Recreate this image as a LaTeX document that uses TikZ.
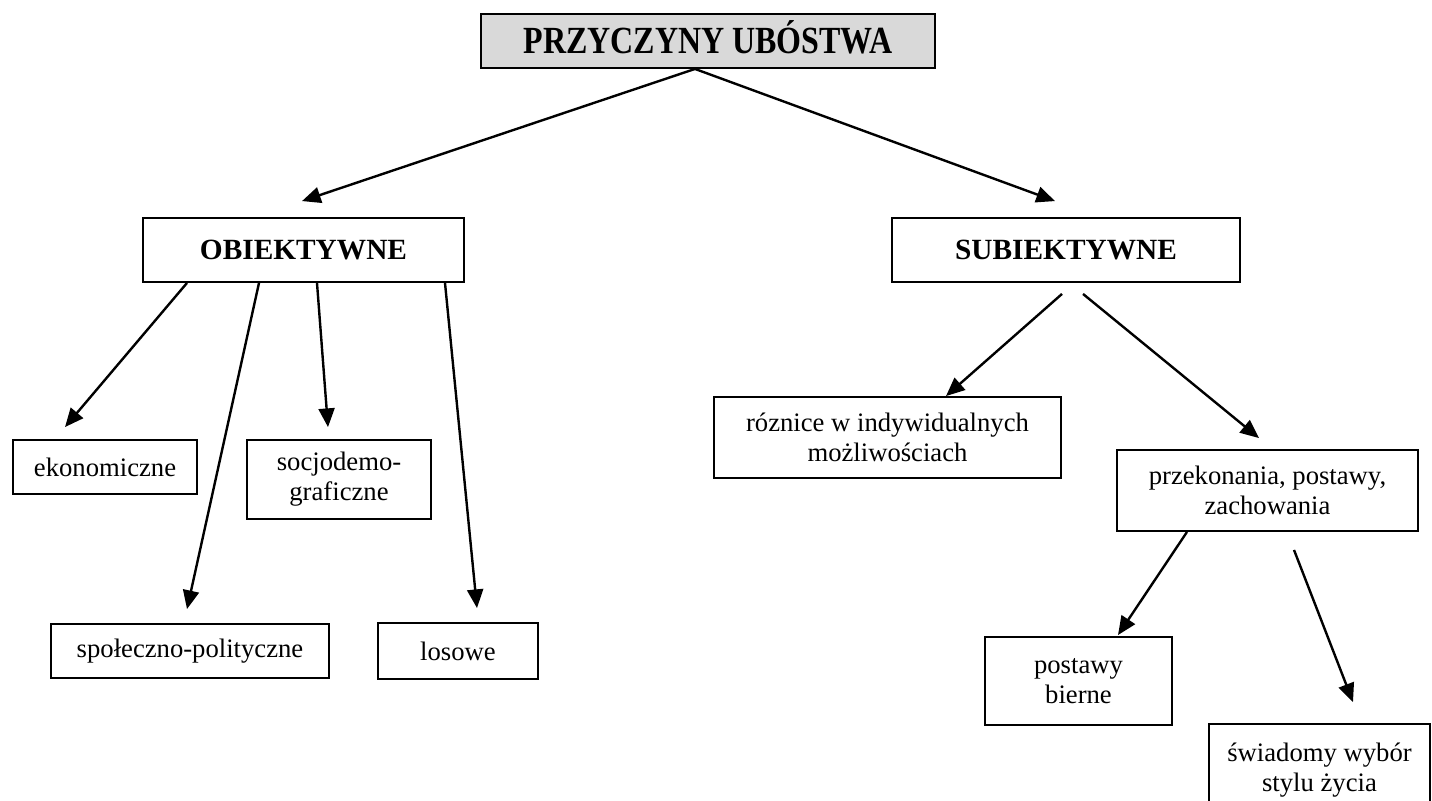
\documentclass[tikz,border=0pt]{standalone}
\usepackage{fontspec}
\setmainfont{Liberation Serif}
\usetikzlibrary{arrows.meta,calc}
\definecolor{boxgray}{RGB}{217,217,217}

\begin{document}
\begin{tikzpicture}[x=0.75pt,y=0.75pt,yscale=-1,xscale=1,
        box/.style={draw,line width=1.4pt,inner sep=0pt,align=center,font=\fontsize{20}{22.5}\selectfont},
        head/.style={box,font=\fontsize{22}{24}\selectfont\bfseries},
        arr/.style={line width=1.8pt,-{Triangle[length=14pt,width=12pt]}}]
        \useasboundingbox (0,0) rectangle (1432,800);
        \clip (0,0) rectangle (1432,800);

        \node (root) at (708,41) [head,fill=boxgray,minimum width=340.5pt,minimum height=40.5pt,text height=19pt,text depth=0pt,font=\fontsize{24}{26}\selectfont\bfseries] {\scalebox{1}[1.2]{PRZYCZYNY UBÓSTWA}};
        \node (obj) at (303.5,250) [head,minimum width=240.75pt,minimum height=48pt] {OBIEKTYWNE};
        \node (sub) at (1066,250) [head,minimum width=261pt,minimum height=48pt] {SUBIEKTYWNE};

        \node (eko) at (105,467) [box,minimum width=138pt,minimum height=40.5pt] {ekonomiczne};
        \node (socjo) at (339,479.5) [box,minimum width=138pt,minimum height=59.25pt] {socjodemo-\\graficzne};
        \node (spol) at (190,651) [box,minimum width=208.5pt,minimum height=40.5pt] {społeczno-polityczne};
        \node (los) at (458,651) [box,minimum width=120pt,minimum height=42pt] {losowe};

        \node (roz) at (887.5,437.5) [box,minimum width=260.25pt,minimum height=60.75pt] {róznice w indywidualnych\\możliwościach};
        \node (prz) at (1267.5,490.5) [box,minimum width=225.75pt,minimum height=60.75pt] {przekonania, postawy,\\zachowania};
        \node (bier) at (1078.5,681) [box,minimum width=140.25pt,minimum height=66pt] {postawy\\bierne};
        \node (swi) at (1319.5,770) [box,minimum width=165.75pt,minimum height=69pt] {świadomy wybór\\stylu życia};

        \draw [arr] ($(root.south)+(-13,0)$) -- ($(obj.north)+(-1.5,-16)$);
        \draw [arr] ($(root.south)+(-13,0)$) -- ($(sub.north)+(-11,-16)$);

        \draw [arr] ($(obj.south)+(-116.5,0)$) -- ($(eko.north)+(-40,-12)$);
        \draw [arr] ($(obj.south)+(-44.5,0)$) -- ($(spol.north)+(-3,-14)$);
        \draw [arr] ($(obj.south)+(13.5,0)$) -- ($(socjo.north)+(-11,-12)$);
        \draw [arr] ($(obj.south)+(141.5,0)$) -- ($(los.north)+(19,-14)$);

        \draw [arr] ($(sub.south)+(-4,11)$) -- ($(roz.north)+(58.5,0)$);
        \draw [arr] ($(sub.south)+(17,11)$) -- ($(prz.north)+(-8.5,-11)$);

        \draw [arr] ($(prz.south)+(-80.5,0)$) -- ($(bier.north)+(39.5,-1)$);
        \draw [arr] ($(prz.south)+(26.5,18)$) -- ($(swi.north)+(33.5,-21)$);
\end{tikzpicture}
\end{document}
